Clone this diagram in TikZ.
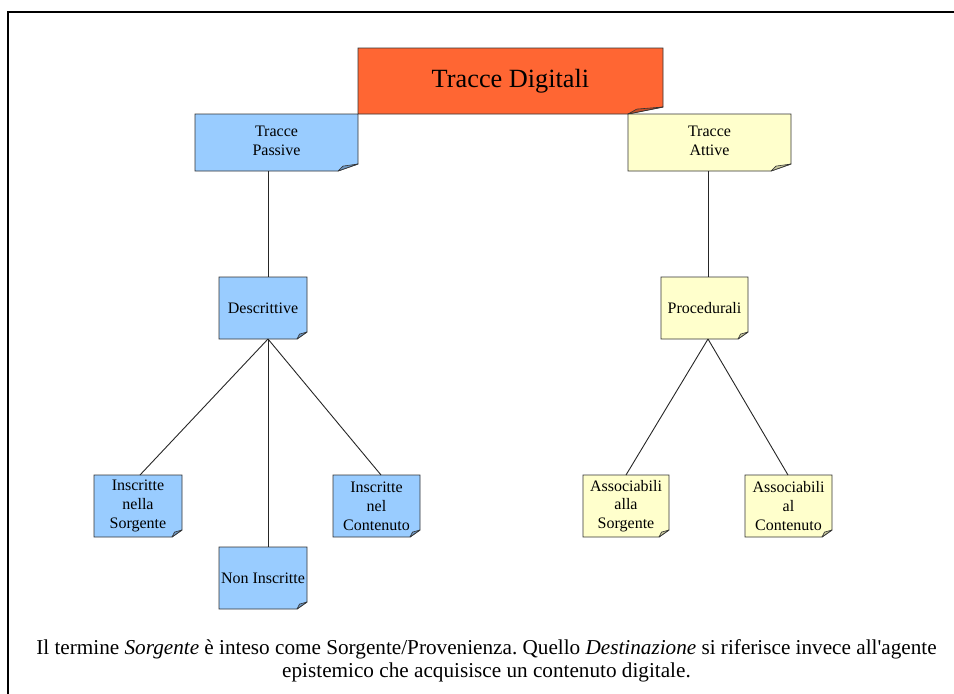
\documentclass[tikz,border=0pt]{standalone}
\usepackage{fontspec}
\setmainfont{Liberation Serif}
\newfontfamily\plainserif{Liberation Serif}
\usetikzlibrary{backgrounds}
\frenchspacing

\definecolor{rootfill}{HTML}{FF6633}
\definecolor{rootfold}{HTML}{C44E27}
\definecolor{passfill}{HTML}{99CCFF}
\definecolor{passfold}{HTML}{6F97C2}
\definecolor{actfill}{HTML}{FFFFCC}
\definecolor{actfold}{HTML}{C9C99E}
\definecolor{boxline}{HTML}{333333}

% note outline with a curled bottom-right corner, drawn behind node #1
% #2 = fold width, #3 = fold height, #4 = paper colour, #5 = fold colour
\newcommand\foldednote[5]{%
  \begin{scope}[on background layer]
    \filldraw[fill=#4, draw=boxline, line width=0.9pt, line join=miter]
      (#1.north west) -- (#1.north east) -- ([yshift=#3]#1.south east)
      -- ([xshift=-#2]#1.south east) -- (#1.south west) -- cycle;
    \filldraw[fill=#5, draw=boxline, line width=0.6pt, line join=round]
      ([xshift=-#2]#1.south east)
      -- ([xshift=-0.75*#2, yshift=0.7*#3]#1.south east)
      -- ([yshift=#3]#1.south east) -- cycle;
  \end{scope}}

\begin{document}
\begin{tikzpicture}[x=1pt, y=-1pt,
  note/.style={inner sep=0pt, outer sep=0pt, align=center,
    font=\fontsize{16}{18.8}\selectfont},
  wide/.style={note, minimum width=163pt, minimum height=57pt},
  small/.style={note, minimum width=88pt, minimum height=62pt},
  link/.style={draw=black!85, line width=0.9pt}]

\useasboundingbox (0,0) rectangle (954,694);

% page frame
\draw[line width=1.3pt] (8,694) -- (8,12) -- (954,12);

% root
\node[note, minimum width=305pt, minimum height=66pt,
  font=\fontsize{26.3}{30}\selectfont] (td) at (510.5,81) {Tracce Digitali};

% second level
\node[wide] (pas) at (276.5,142.5) {\raisebox{2pt}{\begin{tabular}{@{}c@{}}Tracce\\Passive\end{tabular}}};
\node[wide] (att) at (709.5,142.5) {\raisebox{2pt}{\begin{tabular}{@{}c@{}}Tracce\\Attive\end{tabular}}};

% third level
\node[small] (desc) at (263,308) {Descrittive};
\node[small, minimum width=87pt] (proc) at (704.5,308) {Procedurali};

% leaves
\node[small] (ins) at (138,506) {Inscritte\\nella\\Sorgente};
\node[small, minimum width=87pt] (inc) at (376.5,506) {Inscritte\\nel\\Contenuto};
\node[small] (non) at (263,578) {Non Inscritte};
\node[small, minimum width=86pt] (aas) at (626,506) {Associabili\\alla\\Sorgente};
\node[small, minimum width=87pt] (aac) at (788.5,506) {Associabili\\al\\Contenuto};

\foldednote{td}{35pt}{7pt}{rootfill}{rootfold}
\foldednote{pas}{20pt}{7pt}{passfill}{passfold}
\foldednote{att}{20pt}{7pt}{actfill}{actfold}
\foldednote{desc}{10pt}{7pt}{passfill}{passfold}
\foldednote{proc}{10pt}{7pt}{actfill}{actfold}
\foldednote{ins}{10pt}{7pt}{passfill}{passfold}
\foldednote{inc}{10pt}{7pt}{passfill}{passfold}
\foldednote{non}{10pt}{7pt}{passfill}{passfold}
\foldednote{aas}{10pt}{7pt}{actfill}{actfold}
\foldednote{aac}{10pt}{7pt}{actfill}{actfold}

% attachment points of the connectors
\coordinate (dtop) at ([xshift=5pt]desc.north);
\coordinate (dbot) at ([xshift=5pt]desc.south);
\coordinate (ptop) at ([xshift=3.5pt]proc.north);
\coordinate (pbot) at ([xshift=3.5pt]proc.south);

% connectors
\draw[link] (pas.south -| dtop) -- (dtop);
\draw[link] (att.south -| ptop) -- (ptop);
\draw[link] (dbot) -- ([xshift=2pt]ins.north);
\draw[link] (dbot) -- ([xshift=5pt]non.north);
\draw[link] (dbot) -- ([xshift=4.5pt]inc.north);
\draw[link] (pbot) -- (aas.north);
\draw[link] (pbot) -- ([xshift=-0.5pt]aac.north);

% footnote
\node[align=center, font=\fontsize{21.2}{22.5}\selectfont] (foot) at (486.5,661)
  {Il termine \textit{Sorgente} è inteso come Sorgente/Provenienza. Quello \textit{Destinazione} si riferisce invece all{\plainserif '}agente\\
   epistemico che acquisisce un contenuto digitale.};
\end{tikzpicture}
\end{document}
